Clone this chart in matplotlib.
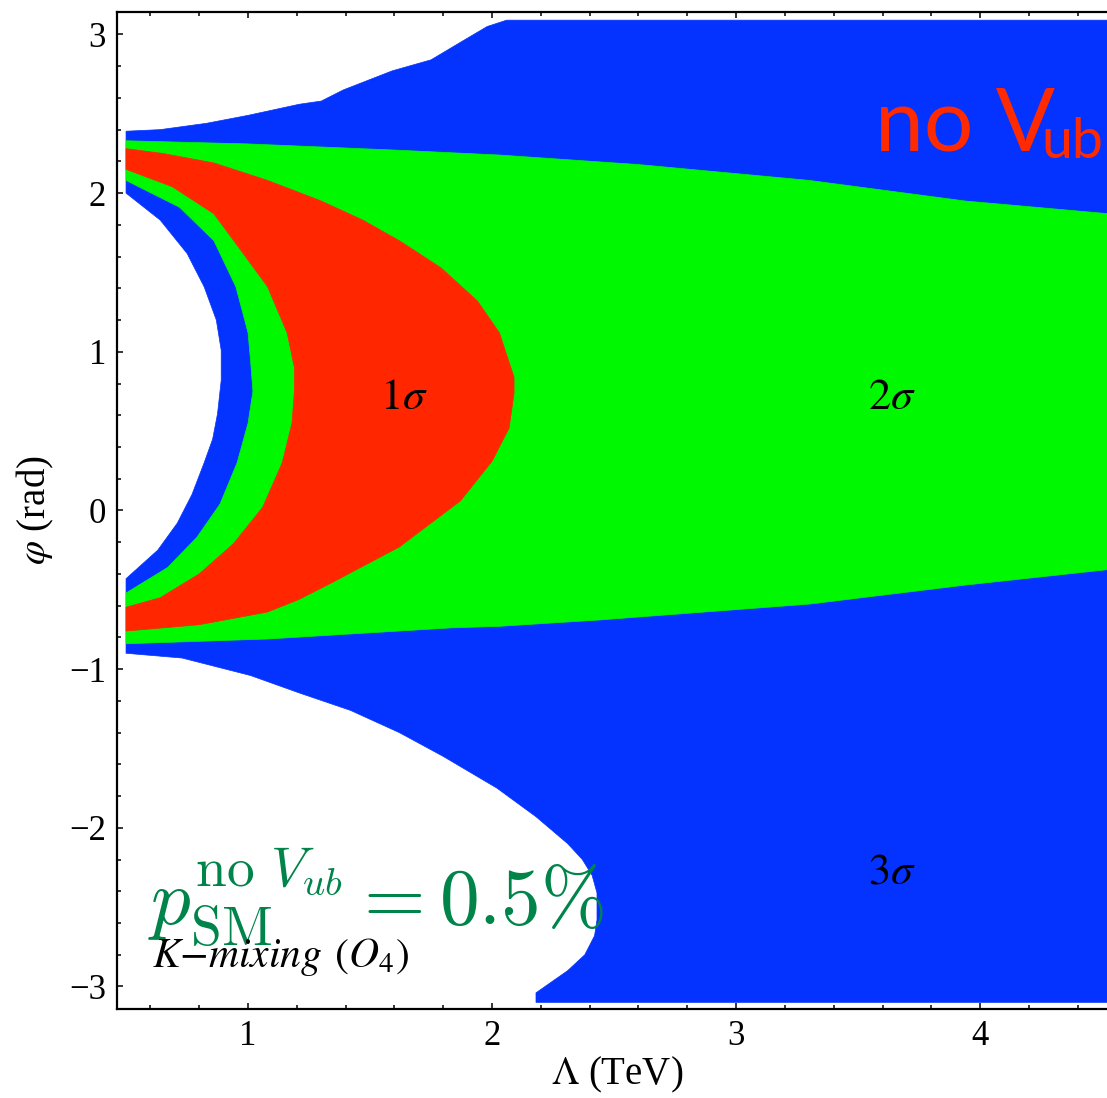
import numpy as np
import matplotlib
matplotlib.use("Agg")
import matplotlib.pyplot as plt
from matplotlib.ticker import MultipleLocator

plt.rcParams['font.family'] = ['Liberation Serif', 'DejaVu Serif']
plt.rcParams['mathtext.fontset'] = 'stix'

# 3 sigma region (blue): outer top edge, outer bottom edge, inner hole edge
lam3_top = [0.50, 0.64, 0.83, 1.00, 1.21, 1.30, 1.39, 1.59, 1.75, 1.87, 1.98, 2.06, 4.60]
phi3_top = [2.39, 2.40, 2.44, 2.49, 2.56, 2.58, 2.65, 2.77, 2.84, 2.95, 3.05, 3.09, 3.09]
lam3_bot = [0.50, 0.73, 1.01, 1.21, 1.42, 1.62, 1.80, 2.02, 2.18, 2.31, 2.37, 2.41, 2.43, 2.43, 2.42, 2.38, 2.31, 2.18, 2.18, 4.60]
phi3_bot = [-0.90, -0.93, -1.04, -1.15, -1.26, -1.40, -1.55, -1.75, -1.93, -2.10, -2.20, -2.30, -2.41, -2.58, -2.68, -2.80, -2.90, -3.04, -3.10, -3.10]
lam3_in = [0.50, 0.63, 0.71, 0.77, 0.82, 0.855, 0.875, 0.89, 0.89, 0.87, 0.82, 0.75, 0.64, 0.50]
phi3_in = [-0.43, -0.25, -0.08, 0.10, 0.30, 0.45, 0.61, 0.82, 1.01, 1.20, 1.41, 1.62, 1.83, 2.00]

# 2 sigma region (green)
lam2_top = [0.50, 1.00, 1.62, 2.03, 2.60, 3.30, 3.94, 4.60]
phi2_top = [2.33, 2.31, 2.27, 2.24, 2.18, 2.08, 1.95, 1.86]
lam2_bot = [0.50, 1.08, 1.83, 2.03, 2.44, 3.30, 3.94, 4.60]
phi2_bot = [-0.84, -0.81, -0.74, -0.73, -0.69, -0.59, -0.47, -0.36]
lam2_in = [0.50, 0.67, 0.79, 0.885, 0.955, 1.00, 1.02, 1.01, 1.00, 0.95, 0.86, 0.72, 0.50]
phi2_in = [-0.52, -0.36, -0.17, 0.04, 0.30, 0.55, 0.75, 0.95, 1.12, 1.41, 1.70, 1.91, 2.08]

# 1 sigma region (red)
lam1_out = [0.50, 0.65, 0.86, 1.08, 1.30, 1.47, 1.62, 1.79, 1.94, 2.03, 2.09, 2.09, 2.07, 2.00, 1.87,
            1.62, 1.35, 1.21, 1.08, 0.80, 0.50]
phi1_out = [2.28, 2.25, 2.19, 2.08, 1.95, 1.83, 1.70, 1.53, 1.32, 1.12, 0.84, 0.74, 0.52, 0.31, 0.06,
            -0.23, -0.45, -0.56, -0.64, -0.72, -0.76]
lam1_in = [0.50, 0.64, 0.80, 0.94, 1.06, 1.14, 1.18, 1.19, 1.19, 1.16, 1.08, 0.98, 0.86, 0.69, 0.50]
phi1_in = [-0.61, -0.55, -0.40, -0.21, 0.02, 0.30, 0.55, 0.75, 0.90, 1.12, 1.41, 1.62, 1.87, 2.04, 2.15]

blue = '#0433FF'
green = '#00F900'
red = '#FF2600'

fig = plt.figure(figsize=(11.07, 10.98), dpi=100)
ax = fig.add_axes([0.1057, 0.0811, 0.8943, 0.908])

x3 = np.concatenate([lam3_top, lam3_bot[::-1], lam3_in])
y3 = np.concatenate([phi3_top, phi3_bot[::-1], phi3_in])
ax.fill(x3, y3, color=blue, lw=0.5, zorder=1)

x2 = np.concatenate([lam2_top, lam2_bot[::-1], lam2_in])
y2 = np.concatenate([phi2_top, phi2_bot[::-1], phi2_in])
ax.fill(x2, y2, color=green, lw=0.5, zorder=2)

x1 = np.concatenate([lam1_out, lam1_in])
y1 = np.concatenate([phi1_out, phi1_in])
ax.fill(x1, y1, color=red, lw=0.5, zorder=3)

ax.set_xlim(0.463, 4.52)
ax.set_ylim(-np.pi, np.pi)

ax.xaxis.set_major_locator(MultipleLocator(1))
ax.xaxis.set_minor_locator(MultipleLocator(0.2))
ax.yaxis.set_major_locator(MultipleLocator(1))
ax.yaxis.set_minor_locator(MultipleLocator(0.2))
ax.tick_params(which='both', direction='in', top=True, right=False, width=1.1,
               labelsize=25)
ax.tick_params(which='major', length=4.5, pad=8)
ax.tick_params(which='minor', length=3)
for s in ['left', 'bottom', 'top']:
    ax.spines[s].set_linewidth(1.6)
ax.spines['right'].set_visible(False)

ax.set_xlabel(r'$\Lambda$ (TeV)', fontsize=28)
ax.set_ylabel(r'$\varphi$ (rad)', fontsize=28)
ax.xaxis.set_label_coords(0.505, -0.046)
ax.yaxis.set_label_coords(-0.062, 0.5)

sig_fs = 32
ax.text(1.64, 0.71, r'$1\sigma$', fontsize=sig_fs, ha='center', va='center', zorder=5)
ax.text(3.64, 0.71, r'$2\sigma$', fontsize=sig_fs, ha='center', va='center', zorder=5)
ax.text(3.64, -2.28, r'$3\sigma$', fontsize=sig_fs, ha='center', va='center', zorder=5)

ax.text(3.57, 2.27, 'no V', fontsize=63, color='#FF2A00', family=['Lato', 'DejaVu Sans'],
        ha='left', va='baseline', zorder=5)
ax.text(4.25, 2.224, 'ub', fontsize=40, color='#FF2A00', family=['Lato', 'DejaVu Sans'],
        ha='left', va='baseline', zorder=5)

ax.text(0.59, -2.615, r'$p_{\mathrm{SM}}^{\mathrm{no}\ V_{ub}} = 0.5\%$', fontsize=57,
        color='#00844A', math_fontfamily='cm', ha='left', va='baseline', zorder=6)
ax.text(0.605, -2.88, r'$K{-}mixing\;\,(O_4)$', fontsize=30, color='black',
        ha='left', va='baseline', zorder=7)

fig.savefig('out.png', dpi=100)
